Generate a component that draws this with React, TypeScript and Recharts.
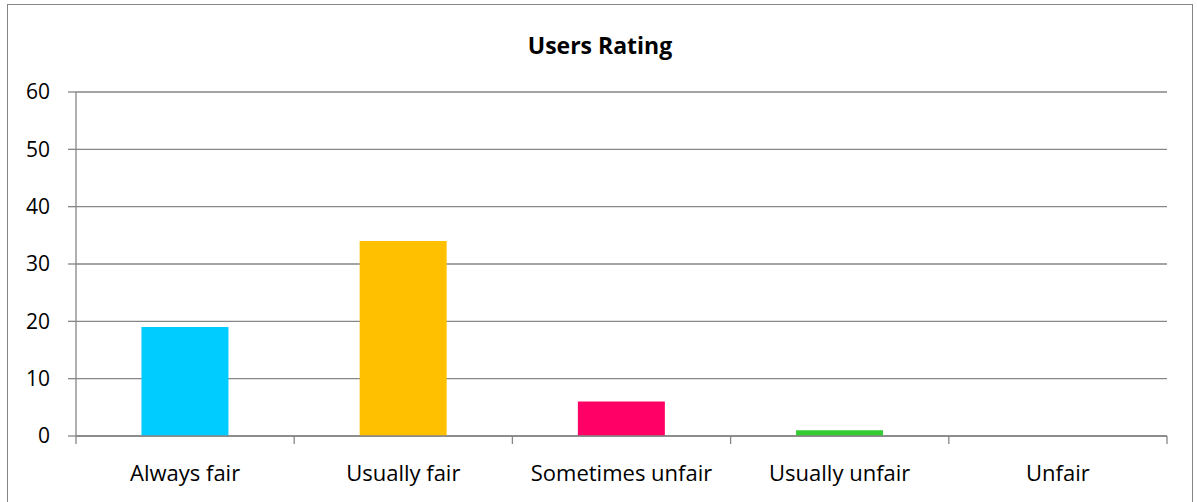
import React from 'react';
import { BarChart, Bar, XAxis, YAxis, CartesianGrid, Cell } from 'recharts';

const categories = ['Always fair', 'Usually fair', 'Sometimes unfair', 'Usually unfair', 'Unfair'];
const ratings = [19, 34, 6, 1, 0];
const barColors = ['#00CCFF', '#FFC000', '#FF0066', '#33CC33', '#7F7F7F'];
const yTicks = [0, 10, 20, 30, 40, 50, 60];

const data = categories.map((name, i) => ({ name, value: ratings[i] }));

const FONT = '"Open Sans", sans-serif';
const GRAY = '#868686';

const CHART_W = 1184;
const MARGIN = { top: 87, right: 25, bottom: 7, left: 0 };
const Y_AXIS_W = 68;
const TICK_SIZE = 8;
const TICK_MARGIN = 21;
const BAND = (CHART_W - MARGIN.left - MARGIN.right - Y_AXIS_W) / categories.length;

// category label plus the tick marks on the band edges (Excel style)
const EdgeTick = (props: any) => {
  const { x, y, payload, index } = props;
  const axisY = y - TICK_SIZE - TICK_MARGIN;
  const left = x - BAND / 2;
  return (
    <g>
      <line x1={left} x2={left} y1={axisY} y2={axisY + TICK_SIZE} stroke={GRAY} strokeWidth={1.3} />
      {index === categories.length - 1 && (
        <line x1={x + BAND / 2} x2={x + BAND / 2} y1={axisY} y2={axisY + TICK_SIZE} stroke={GRAY} strokeWidth={1.3} />
      )}
      <text x={x} y={y} dy="0.71em" textAnchor="middle" fill="#000" fontSize={22} fontFamily={FONT}>
        {payload.value}
      </text>
    </g>
  );
};

const App: React.FC = () => {
  return (
    <div
      style={{
        position: 'absolute',
        left: 7,
        top: 4,
        width: CHART_W,
        height: 510,
        border: `1px solid ${GRAY}`,
        background: '#fff',
        fontFamily: FONT,
      }}
    >
      <div
        style={{
          position: 'absolute',
          left: 0,
          width: '100%',
          top: 24,
          textAlign: 'center',
          fontWeight: 700,
          fontSize: 23,
          color: '#000',
        }}
      >
        Users Rating
      </div>
      <BarChart width={CHART_W} height={498} data={data} margin={MARGIN} barCategoryGap="30%">
        <CartesianGrid vertical={false} stroke={GRAY} strokeWidth={1.3} />
        <XAxis
          dataKey="name"
          height={60}
          axisLine={{ stroke: GRAY, strokeWidth: 1.3 }}
          tickLine={false}
          tickSize={TICK_SIZE}
          tickMargin={TICK_MARGIN}
          interval={0}
          tick={<EdgeTick />}
        />
        <YAxis
          width={Y_AXIS_W}
          domain={[0, 60]}
          ticks={yTicks}
          axisLine={{ stroke: GRAY, strokeWidth: 1.3 }}
          tickLine={{ stroke: GRAY, strokeWidth: 1.3 }}
          tickSize={TICK_SIZE}
          tickMargin={18}
          tick={{ fill: '#000', fontSize: 21, fontFamily: FONT }}
        />
        <Bar dataKey="value" isAnimationActive={false}>
          {data.map((d, i) => (
            <Cell key={d.name} fill={barColors[i]} />
          ))}
        </Bar>
      </BarChart>
    </div>
  );
};

export default App;
